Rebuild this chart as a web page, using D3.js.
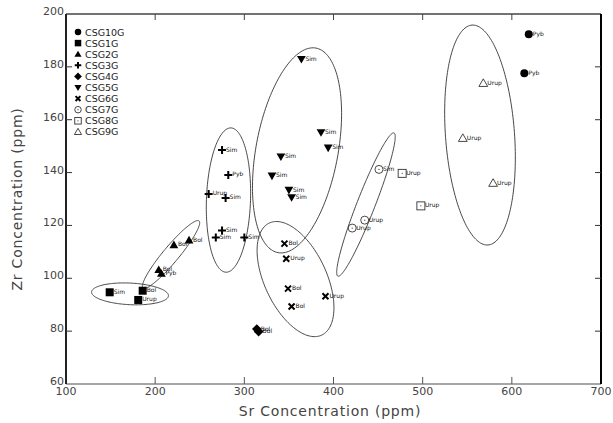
<!DOCTYPE html>
<html lang="en">
<head>
<meta charset="utf-8">
<title>Sr vs Zr</title>
<script src="https://d3js.org/d3.v7.min.js"></script>
<style>
  body { margin: 0; background: #fff; }
  text { font-family: "DejaVu Sans", sans-serif; }
</style>
</head>
<body>
<svg id="chart" width="613" height="423"></svg>
<script>
// sample groups: [Sr, Zr, label]
var csg10g = [[619, 192.3, "Pyb"], [614, 177.6, "Pyb"]];
var csg1g  = [[149, 94.7, "Sim"], [186, 95.3, "Bol"], [181, 91.8, "Urup"]];
var csg2g  = [[204, 103.2, "Bol"], [207, 101.8, "Pyb"], [221, 112.6, "Bol"], [238, 114.4, "Bol"]];
var csg3g  = [[275, 148.5, "Sim"], [282, 139.1, "Pyb"], [260, 131.9, "Urup"], [279, 130.4, "Sim"],
              [275, 118.1, "Sim"], [268, 115.4, "Sim"], [300, 115.4, "Sim"]];
var csg4g  = [[314, 80.8, "Bol"], [316, 79.8, "Bol"]];
var csg5g  = [[364, 182.9, "Sim"], [386, 155.2, "Sim"], [394, 149.4, "Sim"], [341, 146, "Sim"],
              [331, 138.8, "Sim"], [350, 133.4, "Sim"], [353, 130.6, "Sim"]];
var csg6g  = [[345, 113.1, "Bol"], [347, 107.4, "Urup"], [349, 96.1, "Bol"], [353, 89.3, "Bol"], [391, 93.2, "Urup"]];
var csg7g  = [[451, 141.2, "Sim"], [435, 122, "Urup"], [421, 119, "Urup"]];
var csg8g  = [[477, 139.7, "Urup"], [498, 127.4, "Urup"]];
var csg9g  = [[568, 173.8, "Urup"], [545, 153, "Urup"], [579, 136, "Urup"]];

var groupNames = ["CSG10G", "CSG1G", "CSG2G", "CSG3G", "CSG4G", "CSG5G", "CSG6G", "CSG7G", "CSG8G", "CSG9G"];
var groupData  = [csg10g, csg1g, csg2g, csg3g, csg4g, csg5g, csg6g, csg7g, csg8g, csg9g];
var groupShape = ["circle", "square", "triangle", "plus", "diamond", "triangleDown", "cross", "openCircle", "openSquare", "openTriangle"];

// cluster outlines: [centre Sr, Zr, major-axis end Sr, Zr, minor-axis end Sr, Zr]
var ellipses = [
  [171.8, 94.1, 214.9, 93.5, 171.2, 98.2],
  [217.8, 109.0, 249.2, 121.7, 224.6, 107.1],
  [282.2, 129.6, 285.0, 156.9, 306.9, 129.3],
  [359.1, 148.4, 380.4, 187.1, 404.3, 145.5],
  [357.4, 99.7, 386.8, 78.5, 388.9, 104.7],
  [436.4, 127.9, 467.8, 155.0, 445.9, 126.7],
  [564.3, 154.2, 555.3, 195.8, 602.9, 155.2]
];

var xTicks = [100, 200, 300, 400, 500, 600, 700];
var yTicks = [60, 80, 100, 120, 140, 160, 180, 200];

var svg = d3.select("#chart");
var pL = 66, pR = 601, pT = 14, pB = 384;

var x = d3.scaleLinear().domain([100, 700]).range([pL, pR]);
var y = d3.scaleLinear().domain([60, 200]).range([pB, pT]);

// ellipses
var line = d3.line().curve(d3.curveLinearClosed);
ellipses.forEach(function (e) {
  var cx = x(e[0]), cy = y(e[1]);
  var ax = x(e[2]) - cx, ay = y(e[3]) - cy;
  var bx = x(e[4]) - cx, by = y(e[5]) - cy;
  var pts = d3.range(0, 180).map(function (i) {
    var t = i / 180 * Math.PI * 2;
    return [cx + Math.cos(t) * ax + Math.sin(t) * bx, cy + Math.cos(t) * ay + Math.sin(t) * by];
  });
  svg.append("path").attr("d", line(pts))
    .attr("fill", "none").attr("stroke", "#333").attr("stroke-width", 0.9);
});

// frame
svg.append("line").attr("x1", pL).attr("x2", pR).attr("y1", pB).attr("y2", pB)
  .attr("stroke", "#888").attr("stroke-width", 1.6);
svg.append("line").attr("x1", pL).attr("x2", pR).attr("y1", pT).attr("y2", pT)
  .attr("stroke", "#444").attr("stroke-width", 1.5);
svg.append("line").attr("x1", pL).attr("x2", pL).attr("y1", pT).attr("y2", pB)
  .attr("stroke", "#222").attr("stroke-width", 2);
svg.append("line").attr("x1", pR).attr("x2", pR).attr("y1", pT).attr("y2", pB)
  .attr("stroke", "#000").attr("stroke-width", 2);

// ticks (inward)
xTicks.slice(1, -1).forEach(function (v) {
  svg.append("line").attr("x1", x(v)).attr("x2", x(v)).attr("y1", pB).attr("y2", pB - 7)
    .attr("stroke", "#555").attr("stroke-width", 1);
  svg.append("line").attr("x1", x(v)).attr("x2", x(v)).attr("y1", pT).attr("y2", pT + 6)
    .attr("stroke", "#444").attr("stroke-width", 1);
});
yTicks.slice(1, -1).forEach(function (v) {
  svg.append("line").attr("x1", pL).attr("x2", pL + 6).attr("y1", y(v)).attr("y2", y(v))
    .attr("stroke", "#333").attr("stroke-width", 1);
  svg.append("line").attr("x1", pR).attr("x2", pR - 6).attr("y1", y(v)).attr("y2", y(v))
    .attr("stroke", "#333").attr("stroke-width", 1);
});

// tick labels
svg.selectAll(".xl").data(xTicks).enter().append("text")
  .attr("x", function (d) { return x(d); }).attr("y", pB + 11)
  .attr("text-anchor", "middle").attr("font-size", 11).attr("fill", "#444")
  .text(function (d) { return d; });
svg.selectAll(".yl").data(yTicks).enter().append("text")
  .attr("x", pL - 2).attr("y", function (d) { return y(d) + 1; })
  .attr("text-anchor", "end").attr("font-size", 11).attr("fill", "#444")
  .text(function (d) { return d; });

// axis titles
svg.append("text").attr("x", 330).attr("y", 416).attr("text-anchor", "middle")
  .attr("font-size", 14).attr("letter-spacing", 0.8).attr("fill", "#444")
  .text("Sr Concentration (ppm)");
svg.append("text").attr("transform", "translate(22,199) rotate(-90)").attr("text-anchor", "middle")
  .attr("font-size", 14).attr("letter-spacing", 0.8).attr("fill", "#444")
  .text("Zr Concentration (ppm)");

function drawMarker(g, shape, px, py, s) {
  var h = s / 2;
  if (shape == "circle") {
    g.append("circle").attr("cx", px).attr("cy", py).attr("r", h).attr("fill", "#000");
  } else if (shape == "square") {
    g.append("rect").attr("x", px - h).attr("y", py - h).attr("width", s).attr("height", s).attr("fill", "#000");
  } else if (shape == "triangle") {
    g.append("path").attr("d", "M" + px + "," + (py - h * 1.1) + "L" + (px + h * 1.1) + "," + (py + h * 0.8) + "L" + (px - h * 1.1) + "," + (py + h * 0.8) + "Z").attr("fill", "#000");
  } else if (shape == "triangleDown") {
    g.append("path").attr("d", "M" + px + "," + (py + h * 1.1) + "L" + (px + h * 1.1) + "," + (py - h * 0.8) + "L" + (px - h * 1.1) + "," + (py - h * 0.8) + "Z").attr("fill", "#000");
  } else if (shape == "diamond") {
    g.append("path").attr("d", "M" + px + "," + (py - h * 1.2) + "L" + (px + h * 1.2) + "," + py + "L" + px + "," + (py + h * 1.2) + "L" + (px - h * 1.2) + "," + py + "Z").attr("fill", "#000");
  } else if (shape == "plus") {
    g.append("path").attr("d", "M" + (px - h) + "," + py + "H" + (px + h) + "M" + px + "," + (py - h) + "V" + (py + h))
      .attr("stroke", "#000").attr("stroke-width", 2);
  } else if (shape == "cross") {
    var c = h * 0.75;
    g.append("path").attr("d", "M" + (px - c) + "," + (py - c) + "L" + (px + c) + "," + (py + c) + "M" + (px + c) + "," + (py - c) + "L" + (px - c) + "," + (py + c))
      .attr("stroke", "#000").attr("stroke-width", 2);
  } else if (shape == "openCircle") {
    g.append("circle").attr("cx", px).attr("cy", py).attr("r", h).attr("fill", "none").attr("stroke", "#333").attr("stroke-width", 0.9);
    g.append("circle").attr("cx", px).attr("cy", py).attr("r", 0.6).attr("fill", "#333");
  } else if (shape == "openSquare") {
    g.append("rect").attr("x", px - h).attr("y", py - h).attr("width", s).attr("height", s).attr("fill", "none").attr("stroke", "#333").attr("stroke-width", 0.9);
    g.append("circle").attr("cx", px).attr("cy", py).attr("r", 0.6).attr("fill", "#333");
  } else if (shape == "openTriangle") {
    g.append("path").attr("d", "M" + px + "," + (py - h * 1.1) + "L" + (px + h * 1.1) + "," + (py + h * 0.8) + "L" + (px - h * 1.1) + "," + (py + h * 0.8) + "Z")
      .attr("fill", "none").attr("stroke", "#333").attr("stroke-width", 0.9);
  }
}

// points and labels
var pts = svg.append("g");
groupData.forEach(function (rows, i) {
  rows.forEach(function (r) {
    var px = x(r[0]), py = y(r[1]);
    drawMarker(pts, groupShape[i], px, py, 8);
    pts.append("text").attr("x", px + 4).attr("y", py + 1.5)
      .attr("font-size", 6).attr("fill", "#111").text(r[2]);
  });
});

// legend
var leg = svg.append("g");
groupNames.forEach(function (name, i) {
  var ly = 32 + i * 11.1;
  drawMarker(leg, groupShape[i], 78, ly, 6.5);
  leg.append("text").attr("x", 85).attr("y", ly + 3.5)
    .attr("font-size", 9.5).attr("fill", "#222").text(name);
});
</script>
</body>
</html>
